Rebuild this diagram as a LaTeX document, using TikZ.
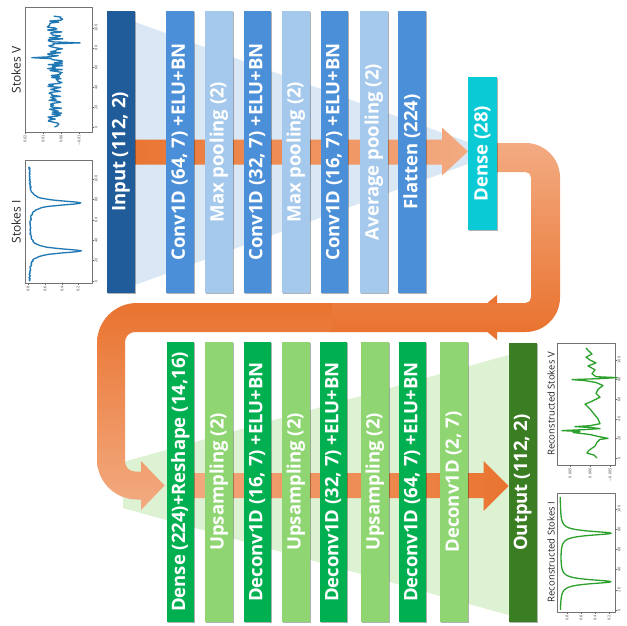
\documentclass[tikz,border=0pt]{standalone}
\usepackage{fontspec}
\setmainfont{Open Sans}
\newfontfamily\tickfont{DejaVu Sans}
\usetikzlibrary{shadows,calc}
\pgfdeclarelayer{bg}
\pgfsetlayers{bg,main}
\definecolor{inblue}{HTML}{1F5C99}
\definecolor{convblue}{HTML}{4A8FD8}
\definecolor{poolblue}{HTML}{A5C9EC}
\definecolor{densecyan}{HTML}{0ACBD5}
\definecolor{trapblue}{HTML}{DAE8F6}
\definecolor{decgreen}{HTML}{00B050}
\definecolor{upgreen}{HTML}{8FD673}
\definecolor{outgreen}{HTML}{3A7D22}
\definecolor{trapgreen}{HTML}{DCF2D2}
\definecolor{orDark}{HTML}{E9732F}
\definecolor{orLight}{HTML}{F3AB82}
\definecolor{plotblue}{HTML}{1F77B4}
\definecolor{plotgreen}{HTML}{2CA02C}
\newcommand{\mkLayer}[7]{\node[layerbox, fill=#6, minimum width={(#3-#2)*1pt}, minimum height={(#5-#4)*1pt}] (#1) at ({(#2+#3)/2},{(#4+#5)/2}) {\rotatebox{90}{#7}};}
\begin{document}
\begin{tikzpicture}[x=1pt,y=-1pt,line join=round,
  layerbox/.style={rectangle, inner sep=0pt, outer sep=0pt, text=white,
    font=\fontsize{18.5}{18.5}\selectfont\bfseries,
    drop shadow={shadow xshift=1.3pt, shadow yshift=-1.3pt, opacity=0.3, fill=black}},
  ticklab/.style={font=\tickfont\fontsize{3.6}{4}\selectfont, text=black!70, inner sep=0.6pt, rotate=90},
  tickmark/.style={draw=black!60, line width=0.4pt},
  axbox/.style={draw=black!55, line width=0.5pt},
  ptitle/.style={font=\fontsize{12}{12}\selectfont, rotate=90, inner sep=0pt, text=black!85},
  rtitle/.style={font=\fontsize{9.5}{9.5}\selectfont, rotate=90, inner sep=0pt, text=black!85},
  curveV/.style={line width=1.3pt},
]
\useasboundingbox (0,0) rectangle (627,626);

% ---------------- encoder layers
\mkLayer{in}{107}{135}{11}{293}{inblue}{Input (112, 2)}
\mkLayer{c1}{166}{193.5}{11}{293}{convblue}{Conv1D (64, 7) +ELU+BN}
\mkLayer{p1}{205}{232.5}{11}{293}{poolblue}{Max pooling (2)}
\mkLayer{c2}{243.5}{271}{11}{293}{convblue}{Conv1D (32, 7) +ELU+BN}
\mkLayer{p2}{282}{309.5}{11}{293}{poolblue}{Max pooling (2)}
\mkLayer{c3}{320.5}{348}{11}{293}{convblue}{Conv1D (16, 7) +ELU+BN}
\mkLayer{p3}{360}{387.5}{11}{293}{poolblue}{Average pooling (2)}
\mkLayer{fl}{398}{425.5}{11}{293}{convblue}{Flatten (224)}
\mkLayer{dn}{468}{497}{77}{230}{densecyan}{Dense (28)}

% ---------------- decoder layers
\mkLayer{dr}{166.5}{194}{342}{622}{decgreen}{Dense (224)+Reshape (14,16)}
\mkLayer{u1}{205}{232.5}{342}{622}{upgreen}{Upsampling (2)}
\mkLayer{d1}{243.5}{271}{342}{622}{decgreen}{Deconv1D (16, 7) +ELU+BN}
\mkLayer{u2}{282}{309.5}{342}{622}{upgreen}{Upsampling (2)}
\mkLayer{d2}{319.5}{347}{342}{622}{decgreen}{Deconv1D (32, 7) +ELU+BN}
\mkLayer{u3}{361}{388.5}{342}{622}{upgreen}{Upsampling (2)}
\mkLayer{d3}{398.5}{426}{342}{622}{decgreen}{Deconv1D (64, 7) +ELU+BN}
\mkLayer{d4}{440}{467.5}{342}{622}{upgreen}{Deconv1D (2, 7)}
\mkLayer{out}{508.5}{537}{343}{622}{outgreen}{Output (112, 2)}

\begin{pgfonlayer}{bg}
  \fill[white] (0,0) rectangle (627,626);
  % funnels
  \fill[trapblue] (135,22) -- (468,142) -- (468,164) -- (135,285) -- cycle;
  \fill[trapgreen] (123,462) -- (508.5,355) -- (508.5,615) -- (123,508) -- cycle;
  % encoder flow arrow
  \shade[left color=orDark, right color=orLight]
    ($(in.center)+(0,-12.5)$) -- ($(dn.west)+(-26,-14)$) -- ($(dn.west)+(-26,-26)$)
    -- ($(dn.west)+(0,-2)$) -- ($(dn.west)+(-26,22)$) -- ($(dn.west)+(-26,11)$)
    -- ($(in.center)+(0,12.5)$) -- cycle;
  % small joint tip
  \fill[orDark] (497,295) -- (470,317.5) -- (497,340) -- cycle;
  % return loop, right part
  \shade[top color=orLight, bottom color=orDark]
    ($(dn.east)+(0,-10.5)$) -- (525.5,143) .. controls (544.55,143) and (560,158.45) .. (560,177.5)
    -- (560,297.5) .. controls (560,316.55) and (544.55,332) .. (525.5,332)
    -- (330,332) -- (330,303) -- (525.5,303) .. controls (528.54,303) and (531,300.54) .. (531,297.5)
    -- (531,177.5) .. controls (531,174.46) and (528.54,172) .. (525.5,172)
    -- ($(dn.east)+(0,18.5)$) -- cycle;
  % return loop, left part
  \shade[top color=orDark, bottom color=orLight]
    (332,303) -- (137,303) .. controls (114.9,303) and (97,320.9) .. (97,343)
    -- (97,459.5) .. controls (97,481.6) and (114.9,499.5) .. (137,499.5)
    -- (141,499.5) -- (141,510) -- ($(dr.west)+(-2,3.5)$) -- (141,461) -- (141,471.5) -- (135,471.5)
    .. controls (129.48,471.5) and (125,467.02) .. (125,461.5)
    -- (125,342) .. controls (125,336.48) and (129.48,332) .. (135,332)
    -- (332,332) -- cycle;
  % decoder flow arrow
  \shade[left color=orLight, right color=orDark]
    ($(dr.center)+(0,-9)$) -- ($(out.west)+(-25,-9.5)$) -- ($(out.west)+(-25,-21.5)$)
    -- ($(out.west)+(0,3.5)$) -- ($(out.west)+(-25,28.5)$) -- ($(out.west)+(-25,15.5)$)
    -- ($(dr.center)+(0,16)$) -- cycle;
\end{pgfonlayer}

% ---------------- Stokes V (input)
\node[ptitle] (tV) at (16,70) {Stokes V};
\draw[axbox] (25,7) rectangle (92,132);
\foreach \t in {0,20,...,100} {
  \draw[tickmark] (92,{127-0.99*\t}) -- ++(2,0) node[ticklab, anchor=north] {\t};
}
\foreach \p/\l in {25/0.02, 43/0.01, 61/0.00, 79/−0.01} {
  \draw[tickmark] (\p,132) -- ++(0,2) node[ticklab, anchor=east] {\l};
}
\pgfmathsetseed{11}
\draw[plotblue, curveV] plot[samples=113, domain=0:112, variable=\t]
  ({61-1800*(0.0035+0.0045*rand+0.012*max(0,1-abs(\t-70))-0.0135*max(0,1-abs(\t-85)))}, {127-0.99*\t});

% ---------------- Stokes I (input)
\node[ptitle] (tI) at (16,222) {Stokes I};
\draw[axbox] (25,160) rectangle (92,283);
\foreach \t in {0,20,...,100} {
  \draw[tickmark] (92,{281-1.02*\t}) -- ++(2,0) node[ticklab, anchor=north] {\t};
}
\foreach \p/\l in {28/0.8, 45/0.6, 62/0.4, 78/0.2} {
  \draw[tickmark] (\p,283) -- ++(0,2) node[ticklab, anchor=east] {\l};
}
\draw[plotblue, curveV] plot[samples=160, domain=0:112, variable=\t]
  ({29+52*(1/(1+(\t-29.5)*(\t-29.5)/7)+1/(1+(\t-76.5)*(\t-76.5)/7))+0.7*rand}, {281-1.02*\t});

% ---------------- Reconstructed Stokes V
\node[rtitle] (rV) at (551,404) {Reconstructed Stokes V};
\draw[axbox] (557,343) rectangle (615,465);
\foreach \t in {0,20,...,100} {
  \draw[tickmark] (615,{458-0.98*\t}) -- ++(2,0) node[ticklab, anchor=north] {\t};
}
\foreach \p/\l in {570/0.005, 590/0.000, 610/−0.005} {
  \draw[tickmark] (\p,465) -- ++(0,2) node[ticklab, anchor=east] {\l};
}
\draw[plotgreen, curveV] (597,458) -- (594,455.1) -- (587,453.1) -- (589,450.2) -- (595,446.2)
  -- (597,442.3) -- (600,439.4) -- (608,438.4) -- (598,436.4) -- (590,434.5) -- (573,432.5)
  -- (580,431.5) -- (562,430.6) -- (585,429.6) -- (600,428.6) -- (592,427.6) -- (575,426.6)
  -- (590,425.7) -- (600,423.7) -- (598,418.8) -- (594,413.9) -- (590,409) -- (585,404.1)
  -- (592,401.2) -- (600,397.2) -- (596,393.3) -- (598,389.4) -- (603,385.5) -- (596,382.5)
  -- (585,380.6) -- (572,379.6) -- (600,378.6) -- (617,377.6) -- (596,376.7) -- (592,373.7)
  -- (595,369.8) -- (588,365.9) -- (596,362.9) -- (590,360) -- (586,357.1) -- (592,354.1)
  -- (588,350.2) -- (586,348);

% ---------------- Reconstructed Stokes I
\node[rtitle] (rI) at (551,552) {Reconstructed Stokes I};
\draw[axbox] (557,493) rectangle (615,612);
\foreach \t in {0,20,...,100} {
  \draw[tickmark] (615,{610-1.01*\t}) -- ++(2,0) node[ticklab, anchor=north] {\t};
}
\foreach \p/\l in {567/0.8, 581/0.6, 595/0.4, 609/0.2} {
  \draw[tickmark] (\p,612) -- ++(0,2) node[ticklab, anchor=east] {\l};
}
\draw[plotgreen, curveV] plot[samples=200, domain=0:112, variable=\t, smooth]
  ({560+51*(1/(1+(\t-28)*(\t-28)/6)+1/(1+(\t-76)*(\t-76)/6))}, {610-1.01*\t});
\end{tikzpicture}
\end{document}
